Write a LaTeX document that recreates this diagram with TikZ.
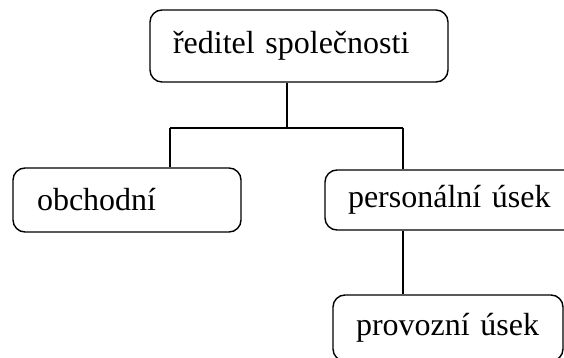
\documentclass[tikz,border=0pt]{standalone}
\usepackage{fontspec}
\setmainfont{Liberation Serif}
\usetikzlibrary{positioning}

\tikzset{
  unit/.style={draw, line width=1.4pt, rounded corners=12pt, inner sep=0pt, align=left, font=\fontsize{32}{38}\selectfont},
  link/.style={draw, line width=1.4pt}
}

\begin{document}
\begin{tikzpicture}[x=1pt, y=-1pt]
  \useasboundingbox (0,0) rectangle (564,358);
  \clip (0,0) rectangle (564,358);
  \node[unit, minimum width=298pt, minimum height=72pt, text width=252pt] (ceo) at (299,46) {ředitel společnosti};
  \node[unit, minimum width=228pt, minimum height=64pt, text width=180pt] (obch) at (127,200) {obchodní};
  \node[unit, minimum width=265pt, minimum height=60pt, text width=219pt] (pers) at (457.5,200) {personální úsek};
  \node[unit, minimum width=230pt, minimum height=66pt, text width=184pt] (prov) at (448,328) {provozní úsek};

  \coordinate (bus) at (287,128);
  \coordinate (jl) at (170,128);
  \coordinate (jr) at (403,128);

  \draw[link] (ceo.south -| bus) -- (bus);
  \draw[link] (jl) -- (jr);
  \draw[link] (jl) -- (jl |- obch.north);
  \draw[link] (jr) -- (jr |- pers.north);
  \draw[link] (pers.south -| jr) -- (prov.north -| jr);
\end{tikzpicture}
\end{document}
